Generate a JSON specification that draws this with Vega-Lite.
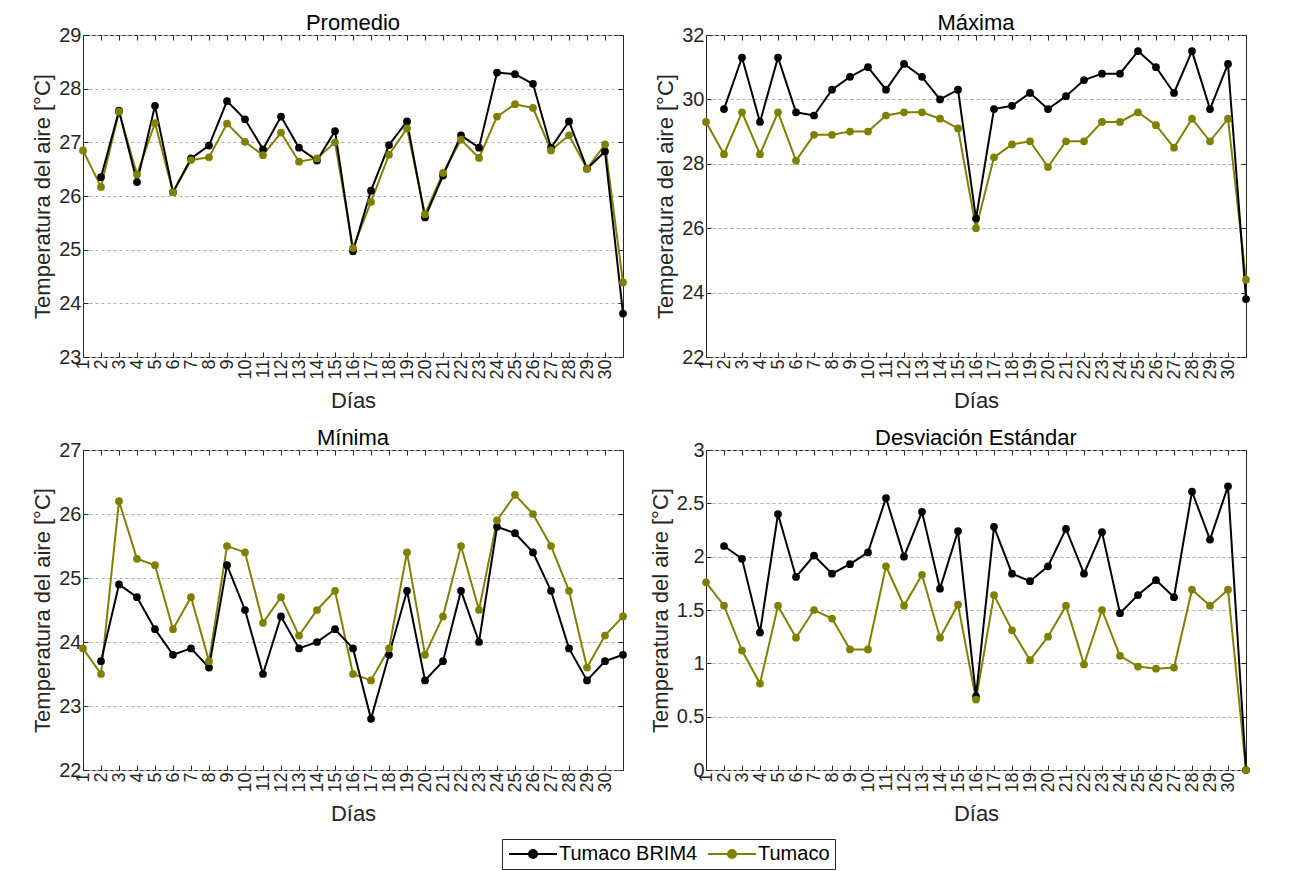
{
  "$schema": "https://vega.github.io/schema/vega-lite/v6.json",
  "background": "white",
  "padding": {"left": 31, "top": 11, "right": 5, "bottom": 5},
  "columns": 2,
  "spacing": {"row": 14, "column": 20},
  "resolve": {"scale": {"color": "shared"}, "legend": {"color": "shared"}},
  "datasets": {
    "P": [
      {"d":1,"Tumaco BRIM4":null,"Tumaco":26.85},{"d":2,"Tumaco BRIM4":26.35,"Tumaco":26.17},{"d":3,"Tumaco BRIM4":27.59,"Tumaco":27.57},
      {"d":4,"Tumaco BRIM4":26.26,"Tumaco":26.40},{"d":5,"Tumaco BRIM4":27.68,"Tumaco":27.36},{"d":6,"Tumaco BRIM4":26.07,"Tumaco":26.07},
      {"d":7,"Tumaco BRIM4":26.70,"Tumaco":26.67},{"d":8,"Tumaco BRIM4":26.94,"Tumaco":26.72},{"d":9,"Tumaco BRIM4":27.77,"Tumaco":27.35},
      {"d":10,"Tumaco BRIM4":27.43,"Tumaco":27.01},{"d":11,"Tumaco BRIM4":26.87,"Tumaco":26.76},{"d":12,"Tumaco BRIM4":27.48,"Tumaco":27.18},
      {"d":13,"Tumaco BRIM4":26.90,"Tumaco":26.64},{"d":14,"Tumaco BRIM4":26.66,"Tumaco":26.70},{"d":15,"Tumaco BRIM4":27.21,"Tumaco":27.00},
      {"d":16,"Tumaco BRIM4":24.97,"Tumaco":25.03},{"d":17,"Tumaco BRIM4":26.10,"Tumaco":25.89},{"d":18,"Tumaco BRIM4":26.95,"Tumaco":26.77},
      {"d":19,"Tumaco BRIM4":27.39,"Tumaco":27.26},{"d":20,"Tumaco BRIM4":25.60,"Tumaco":25.66},{"d":21,"Tumaco BRIM4":26.38,"Tumaco":26.43},
      {"d":22,"Tumaco BRIM4":27.13,"Tumaco":27.05},{"d":23,"Tumaco BRIM4":26.90,"Tumaco":26.71},{"d":24,"Tumaco BRIM4":28.30,"Tumaco":27.48},
      {"d":25,"Tumaco BRIM4":28.27,"Tumaco":27.71},{"d":26,"Tumaco BRIM4":28.09,"Tumaco":27.64},{"d":27,"Tumaco BRIM4":26.90,"Tumaco":26.85},
      {"d":28,"Tumaco BRIM4":27.39,"Tumaco":27.13},{"d":29,"Tumaco BRIM4":26.51,"Tumaco":26.51},{"d":30,"Tumaco BRIM4":26.83,"Tumaco":26.96},
      {"d":31,"Tumaco BRIM4":23.81,"Tumaco":24.39}
    ],
    "Mx": [
      {"d":1,"Tumaco BRIM4":null,"Tumaco":29.3},{"d":2,"Tumaco BRIM4":29.7,"Tumaco":28.3},{"d":3,"Tumaco BRIM4":31.3,"Tumaco":29.6},
      {"d":4,"Tumaco BRIM4":29.3,"Tumaco":28.3},{"d":5,"Tumaco BRIM4":31.3,"Tumaco":29.6},{"d":6,"Tumaco BRIM4":29.6,"Tumaco":28.1},
      {"d":7,"Tumaco BRIM4":29.5,"Tumaco":28.9},{"d":8,"Tumaco BRIM4":30.3,"Tumaco":28.9},{"d":9,"Tumaco BRIM4":30.7,"Tumaco":29.0},
      {"d":10,"Tumaco BRIM4":31.0,"Tumaco":29.0},{"d":11,"Tumaco BRIM4":30.3,"Tumaco":29.5},{"d":12,"Tumaco BRIM4":31.1,"Tumaco":29.6},
      {"d":13,"Tumaco BRIM4":30.7,"Tumaco":29.6},{"d":14,"Tumaco BRIM4":30.0,"Tumaco":29.4},{"d":15,"Tumaco BRIM4":30.3,"Tumaco":29.1},
      {"d":16,"Tumaco BRIM4":26.3,"Tumaco":26.0},{"d":17,"Tumaco BRIM4":29.7,"Tumaco":28.2},{"d":18,"Tumaco BRIM4":29.8,"Tumaco":28.6},
      {"d":19,"Tumaco BRIM4":30.2,"Tumaco":28.7},{"d":20,"Tumaco BRIM4":29.7,"Tumaco":27.9},{"d":21,"Tumaco BRIM4":30.1,"Tumaco":28.7},
      {"d":22,"Tumaco BRIM4":30.6,"Tumaco":28.7},{"d":23,"Tumaco BRIM4":30.8,"Tumaco":29.3},{"d":24,"Tumaco BRIM4":30.8,"Tumaco":29.3},
      {"d":25,"Tumaco BRIM4":31.5,"Tumaco":29.6},{"d":26,"Tumaco BRIM4":31.0,"Tumaco":29.2},{"d":27,"Tumaco BRIM4":30.2,"Tumaco":28.5},
      {"d":28,"Tumaco BRIM4":31.5,"Tumaco":29.4},{"d":29,"Tumaco BRIM4":29.7,"Tumaco":28.7},{"d":30,"Tumaco BRIM4":31.1,"Tumaco":29.4},
      {"d":31,"Tumaco BRIM4":23.8,"Tumaco":24.4}
    ],
    "Mn": [
      {"d":1,"Tumaco BRIM4":null,"Tumaco":23.9},{"d":2,"Tumaco BRIM4":23.7,"Tumaco":23.5},{"d":3,"Tumaco BRIM4":24.9,"Tumaco":26.2},
      {"d":4,"Tumaco BRIM4":24.7,"Tumaco":25.3},{"d":5,"Tumaco BRIM4":24.2,"Tumaco":25.2},{"d":6,"Tumaco BRIM4":23.8,"Tumaco":24.2},
      {"d":7,"Tumaco BRIM4":23.9,"Tumaco":24.7},{"d":8,"Tumaco BRIM4":23.6,"Tumaco":23.7},{"d":9,"Tumaco BRIM4":25.2,"Tumaco":25.5},
      {"d":10,"Tumaco BRIM4":24.5,"Tumaco":25.4},{"d":11,"Tumaco BRIM4":23.5,"Tumaco":24.3},{"d":12,"Tumaco BRIM4":24.4,"Tumaco":24.7},
      {"d":13,"Tumaco BRIM4":23.9,"Tumaco":24.1},{"d":14,"Tumaco BRIM4":24.0,"Tumaco":24.5},{"d":15,"Tumaco BRIM4":24.2,"Tumaco":24.8},
      {"d":16,"Tumaco BRIM4":23.9,"Tumaco":23.5},{"d":17,"Tumaco BRIM4":22.8,"Tumaco":23.4},{"d":18,"Tumaco BRIM4":23.8,"Tumaco":23.9},
      {"d":19,"Tumaco BRIM4":24.8,"Tumaco":25.4},{"d":20,"Tumaco BRIM4":23.4,"Tumaco":23.8},{"d":21,"Tumaco BRIM4":23.7,"Tumaco":24.4},
      {"d":22,"Tumaco BRIM4":24.8,"Tumaco":25.5},{"d":23,"Tumaco BRIM4":24.0,"Tumaco":24.5},{"d":24,"Tumaco BRIM4":25.8,"Tumaco":25.9},
      {"d":25,"Tumaco BRIM4":25.7,"Tumaco":26.3},{"d":26,"Tumaco BRIM4":25.4,"Tumaco":26.0},{"d":27,"Tumaco BRIM4":24.8,"Tumaco":25.5},
      {"d":28,"Tumaco BRIM4":23.9,"Tumaco":24.8},{"d":29,"Tumaco BRIM4":23.4,"Tumaco":23.6},{"d":30,"Tumaco BRIM4":23.7,"Tumaco":24.1},
      {"d":31,"Tumaco BRIM4":23.8,"Tumaco":24.4}
    ],
    "D": [
      {"d":1,"Tumaco BRIM4":null,"Tumaco":1.76},{"d":2,"Tumaco BRIM4":2.10,"Tumaco":1.54},{"d":3,"Tumaco BRIM4":1.98,"Tumaco":1.12},
      {"d":4,"Tumaco BRIM4":1.29,"Tumaco":0.81},{"d":5,"Tumaco BRIM4":2.40,"Tumaco":1.54},{"d":6,"Tumaco BRIM4":1.81,"Tumaco":1.24},
      {"d":7,"Tumaco BRIM4":2.01,"Tumaco":1.50},{"d":8,"Tumaco BRIM4":1.84,"Tumaco":1.42},{"d":9,"Tumaco BRIM4":1.93,"Tumaco":1.13},
      {"d":10,"Tumaco BRIM4":2.04,"Tumaco":1.13},{"d":11,"Tumaco BRIM4":2.55,"Tumaco":1.91},{"d":12,"Tumaco BRIM4":2.00,"Tumaco":1.54},
      {"d":13,"Tumaco BRIM4":2.42,"Tumaco":1.83},{"d":14,"Tumaco BRIM4":1.70,"Tumaco":1.24},{"d":15,"Tumaco BRIM4":2.24,"Tumaco":1.55},
      {"d":16,"Tumaco BRIM4":0.69,"Tumaco":0.66},{"d":17,"Tumaco BRIM4":2.28,"Tumaco":1.64},{"d":18,"Tumaco BRIM4":1.84,"Tumaco":1.31},
      {"d":19,"Tumaco BRIM4":1.77,"Tumaco":1.03},{"d":20,"Tumaco BRIM4":1.91,"Tumaco":1.25},{"d":21,"Tumaco BRIM4":2.26,"Tumaco":1.54},
      {"d":22,"Tumaco BRIM4":1.84,"Tumaco":0.99},{"d":23,"Tumaco BRIM4":2.23,"Tumaco":1.50},{"d":24,"Tumaco BRIM4":1.47,"Tumaco":1.07},
      {"d":25,"Tumaco BRIM4":1.64,"Tumaco":0.97},{"d":26,"Tumaco BRIM4":1.78,"Tumaco":0.95},{"d":27,"Tumaco BRIM4":1.62,"Tumaco":0.96},
      {"d":28,"Tumaco BRIM4":2.61,"Tumaco":1.69},{"d":29,"Tumaco BRIM4":2.16,"Tumaco":1.54},{"d":30,"Tumaco BRIM4":2.66,"Tumaco":1.69},
      {"d":31,"Tumaco BRIM4":0.0,"Tumaco":0.0}
    ]
  },
  "concat": [
    {
      "title": "Promedio",
      "width": 540, "height": 322,
      "data": {"name": "P"},
      "transform": [{"fold": ["Tumaco BRIM4", "Tumaco"], "as": ["s", "v"]}, {"filter": "isValid(datum.v)"}],
      "layer": [
        {
          "mark": {"type": "line", "strokeWidth": 2},
          "encoding": {
            "x": {"field": "d", "type": "quantitative", "scale": {"domain": [1, 31], "nice": false}, "axis": {"title": "Días", "values": [1,2,3,4,5,6,7,8,9,10,11,12,13,14,15,16,17,18,19,20,21,22,23,24,25,26,27,28,29,30], "labelAngle": 270}},
            "y": {"field": "v", "type": "quantitative", "scale": {"domain": [23, 29], "nice": false, "zero": false}, "axis": {"title": "Temperatura del aire [°C]", "values": [23,24,25,26,27,28,29], "format": "~g"}},
            "color": {"field": "s", "type": "nominal", "scale": {"domain": ["Tumaco BRIM4", "Tumaco"], "range": ["#000000", "#808000"]},
              "legend": {"title": null, "orient": "none", "legendX": 419, "legendY": 804, "direction": "horizontal", "strokeColor": "#262626", "padding": 5, "labelFontSize": 20, "labelColor": "#000000", "symbolType": "M-1,0L5,0M2.5,0A0.5,0.5,0,1,1,1.5,0A0.5,0.5,0,1,1,2.5,0Z", "symbolSize": 256, "symbolStrokeWidth": 2, "columnPadding": 6, "labelOffset": 32}}
          }
        },
        {
          "mark": {"type": "point", "filled": true, "size": 60, "opacity": 1},
          "encoding": {
            "x": {"field": "d", "type": "quantitative", "scale": {"domain": [1, 31], "nice": false}, "axis": {"orient": "top", "labels": false, "title": null, "minExtent": 0, "maxExtent": 0, "values": [1,2,3,4,5,6,7,8,9,10,11,12,13,14,15,16,17,18,19,20,21,22,23,24,25,26,27,28,29,30]}},
            "y": {"field": "v", "type": "quantitative", "scale": {"domain": [23, 29], "nice": false, "zero": false}, "axis": {"orient": "right", "labels": false, "title": null, "grid": false, "minExtent": 0, "maxExtent": 0, "values": [23,24,25,26,27,28,29]}},
            "color": {"field": "s", "type": "nominal"}
          }
        }
      ],
      "resolve": {"axis": {"x": "independent", "y": "independent"}}
    },
    {
      "title": "Máxima",
      "width": 540, "height": 322,
      "data": {"name": "Mx"},
      "transform": [{"fold": ["Tumaco BRIM4", "Tumaco"], "as": ["s", "v"]}, {"filter": "isValid(datum.v)"}],
      "layer": [
        {
          "mark": {"type": "line", "strokeWidth": 2},
          "encoding": {
            "x": {"field": "d", "type": "quantitative", "scale": {"domain": [1, 31], "nice": false}, "axis": {"title": "Días", "values": [1,2,3,4,5,6,7,8,9,10,11,12,13,14,15,16,17,18,19,20,21,22,23,24,25,26,27,28,29,30], "labelAngle": 270}},
            "y": {"field": "v", "type": "quantitative", "scale": {"domain": [22, 32], "nice": false, "zero": false}, "axis": {"title": "Temperatura del aire [°C]", "values": [22,24,26,28,30,32], "format": "~g"}},
            "color": {"field": "s", "type": "nominal"}
          }
        },
        {
          "mark": {"type": "point", "filled": true, "size": 60, "opacity": 1},
          "encoding": {
            "x": {"field": "d", "type": "quantitative", "scale": {"domain": [1, 31], "nice": false}, "axis": {"orient": "top", "labels": false, "title": null, "minExtent": 0, "maxExtent": 0, "values": [1,2,3,4,5,6,7,8,9,10,11,12,13,14,15,16,17,18,19,20,21,22,23,24,25,26,27,28,29,30]}},
            "y": {"field": "v", "type": "quantitative", "scale": {"domain": [22, 32], "nice": false, "zero": false}, "axis": {"orient": "right", "labels": false, "title": null, "grid": false, "minExtent": 0, "maxExtent": 0, "values": [22,24,26,28,30,32]}},
            "color": {"field": "s", "type": "nominal"}
          }
        }
      ],
      "resolve": {"axis": {"x": "independent", "y": "independent"}}
    },
    {
      "title": "Mínima",
      "width": 540, "height": 320,
      "data": {"name": "Mn"},
      "transform": [{"fold": ["Tumaco BRIM4", "Tumaco"], "as": ["s", "v"]}, {"filter": "isValid(datum.v)"}],
      "layer": [
        {
          "mark": {"type": "line", "strokeWidth": 2},
          "encoding": {
            "x": {"field": "d", "type": "quantitative", "scale": {"domain": [1, 31], "nice": false}, "axis": {"title": "Días", "values": [1,2,3,4,5,6,7,8,9,10,11,12,13,14,15,16,17,18,19,20,21,22,23,24,25,26,27,28,29,30], "labelAngle": 270}},
            "y": {"field": "v", "type": "quantitative", "scale": {"domain": [22, 27], "nice": false, "zero": false}, "axis": {"title": "Temperatura del aire [°C]", "values": [22,23,24,25,26,27], "format": "~g"}},
            "color": {"field": "s", "type": "nominal"}
          }
        },
        {
          "mark": {"type": "point", "filled": true, "size": 60, "opacity": 1},
          "encoding": {
            "x": {"field": "d", "type": "quantitative", "scale": {"domain": [1, 31], "nice": false}, "axis": {"orient": "top", "labels": false, "title": null, "minExtent": 0, "maxExtent": 0, "values": [1,2,3,4,5,6,7,8,9,10,11,12,13,14,15,16,17,18,19,20,21,22,23,24,25,26,27,28,29,30]}},
            "y": {"field": "v", "type": "quantitative", "scale": {"domain": [22, 27], "nice": false, "zero": false}, "axis": {"orient": "right", "labels": false, "title": null, "grid": false, "minExtent": 0, "maxExtent": 0, "values": [22,23,24,25,26,27]}},
            "color": {"field": "s", "type": "nominal"}
          }
        }
      ],
      "resolve": {"axis": {"x": "independent", "y": "independent"}}
    },
    {
      "title": "Desviación Estándar",
      "width": 540, "height": 320,
      "data": {"name": "D"},
      "transform": [{"fold": ["Tumaco BRIM4", "Tumaco"], "as": ["s", "v"]}, {"filter": "isValid(datum.v)"}],
      "layer": [
        {
          "mark": {"type": "line", "strokeWidth": 2},
          "encoding": {
            "x": {"field": "d", "type": "quantitative", "scale": {"domain": [1, 31], "nice": false}, "axis": {"title": "Días", "values": [1,2,3,4,5,6,7,8,9,10,11,12,13,14,15,16,17,18,19,20,21,22,23,24,25,26,27,28,29,30], "labelAngle": 270}},
            "y": {"field": "v", "type": "quantitative", "scale": {"domain": [0, 3], "nice": false, "zero": false}, "axis": {"title": "Temperatura del aire [°C]", "values": [0,0.5,1,1.5,2,2.5,3], "format": "~g"}},
            "color": {"field": "s", "type": "nominal"}
          }
        },
        {
          "mark": {"type": "point", "filled": true, "size": 60, "opacity": 1},
          "encoding": {
            "x": {"field": "d", "type": "quantitative", "scale": {"domain": [1, 31], "nice": false}, "axis": {"orient": "top", "labels": false, "title": null, "minExtent": 0, "maxExtent": 0, "values": [1,2,3,4,5,6,7,8,9,10,11,12,13,14,15,16,17,18,19,20,21,22,23,24,25,26,27,28,29,30]}},
            "y": {"field": "v", "type": "quantitative", "scale": {"domain": [0, 3], "nice": false, "zero": false}, "axis": {"orient": "right", "labels": false, "title": null, "grid": false, "minExtent": 0, "maxExtent": 0, "values": [0,0.5,1,1.5,2,2.5,3]}},
            "color": {"field": "s", "type": "nominal"}
          }
        }
      ],
      "resolve": {"axis": {"x": "independent", "y": "independent"}}
    }
  ],
  "config": {
    "font": "Liberation Sans",
    "view": {"stroke": "#262626", "strokeWidth": 1},
    "axis": {"labelFont": "Liberation Sans", "titleFont": "Liberation Sans", "labelColor": "#262626", "titleColor": "#262626", "titleFontWeight": "normal", "domain": false, "tickColor": "#262626", "tickSize": -5, "labelFontSize": 20, "titleFontSize": 22, "labelPadding": 7, "titlePadding": 4, "labelOverlap": false},
    "axisX": {"grid": false, "labelFontSize": 18, "titlePadding": 11},
    "axisY": {"grid": true, "gridDash": [3, 3], "gridColor": "#aaaaaa"},
    "title": {"fontSize": 22, "fontWeight": "normal", "color": "#000000", "font": "Liberation Sans", "offset": -10},
    "legend": {"labelFont": "Liberation Sans"}
  }
}
